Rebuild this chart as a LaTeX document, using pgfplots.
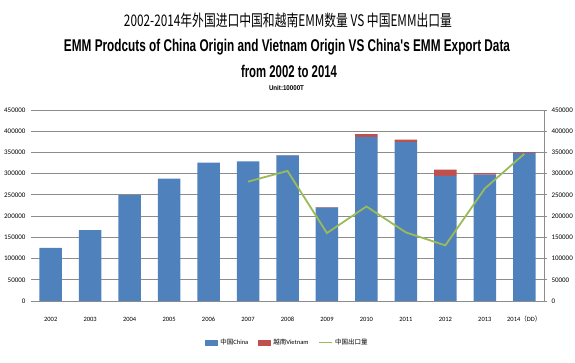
\documentclass[border=0pt]{standalone}
\usepackage{pgfplots}
\pgfplotsset{compat=1.18}
\usepackage{pgfplotstable}
\usepackage{graphicx}
\usepackage{fontspec}
\setmainfont{Carlito}
\newfontfamily\cjk{Noto Sans CJK SC}
\newfontfamily\arial{Liberation Sans}
\definecolor{cblue}{HTML}{4F81BD}
\definecolor{cred}{HTML}{C0504D}
\definecolor{cgreen}{HTML}{9BBB59}
\definecolor{cgrid}{HTML}{8C8C8C}
\pgfplotstableread{
x china vietnam
0 125400 0
1 166900 0
2 249500 0
3 288400 0
4 326000 0
5 329000 0
6 343000 800
7 220000 1200
8 386700 6200
9 374100 6300
10 294900 14900
11 298000 3200
12 349000 1600
}\bars
\pgfplotstableread{
x export
5 281300
6 306400
7 160000
8 222700
9 161600
10 131000
11 265000
12 346700
}\exportdata
\begin{document}
\begin{tikzpicture}[x=1pt,y=1pt]
\useasboundingbox (0,0) rectangle (575,363);
\node[anchor=base,inner sep=0] at (288,336) {\resizebox{328pt}{\height}{\cjk\fontsize{16}{16}\selectfont 2002-2014年外国进口中国和越南EMM数量 VS 中国EMM出口量}};
\node[anchor=base,inner sep=0] at (287,311) {\resizebox{446pt}{\height}{\arial\bfseries\fontsize{17}{17}\selectfont EMM Prodcuts of China Origin and Vietnam Origin VS China\textquotesingle s EMM Export Data}};
\node[anchor=base,inner sep=0] at (289,285) {\resizebox{96pt}{\height}{\arial\bfseries\fontsize{17}{17}\selectfont from 2002 to 2014}};
\node[anchor=base,inner sep=0] at (286.5,272) {\resizebox{35pt}{\height}{\arial\bfseries\fontsize{7}{7}\selectfont Unit:10000T}};
\begin{axis}[
  at={(31pt,62pt)}, anchor=south west, width=513pt, height=191pt, scale only axis,
  ybar stacked, bar width=22.5pt,
  xmin=-0.5, xmax=12.5, ymin=0, ymax=450000,
  xtick={0,1,2,3,4,5,6,7,8,9,10,11,12},
  xticklabels={2002,2003,2004,2005,2006,2007,2008,2009,2010,2011,2012,2013,{2014{\cjk （}DD{\cjk ）}}},
  ytick={0,50000,100000,150000,200000,250000,300000,350000,400000,450000},
  scaled y ticks=false,
  /pgf/number format/fixed,
  /pgf/number format/1000 sep={},
  /pgf/number format/assume math mode=true,
  ymajorgrids, grid style={cgrid, line width=0.8pt},
  axis x line*=bottom, axis y line*=left,
  x axis line style={cgrid, line width=0.8pt, -},
  y axis line style={draw=none},
  major tick length=0pt,
  tick label style={font=\fontsize{7}{8}\selectfont},
  xticklabel style={anchor=base, yshift=-20.5pt, font=\fontsize{6.5}{7}\selectfont},
  yticklabel style={xshift=-2pt},
  legend style={draw=none, fill=none, at={(0.5,-0.218)}, anchor=center,
    legend columns=3, font=\fontsize{6.5}{7}\selectfont,
    /tikz/every even column/.append style={column sep=8pt}},
  legend cell align=left,
]
\addplot[fill=cblue, draw=none, legend image code/.code={\fill[cblue] (0pt,-3pt) rectangle (13pt,3pt);}] table[x=x,y=china] {\bars};
\addlegendentry{{\cjk 中国}China}
\addplot[fill=cred, draw=none, legend image code/.code={\fill[cred] (0pt,-3pt) rectangle (13pt,3pt);}] table[x=x,y=vietnam] {\bars};
\addlegendentry{{\cjk 越南}Vietnam}
\addlegendimage{cgreen, line width=1.5pt, legend image code/.code={\draw[cgreen, line width=1.5pt] (0pt,0pt) -- (13pt,0pt);}}
\addlegendentry{{\cjk 中国出口量}}
\end{axis}
\begin{axis}[
  at={(31pt,62pt)}, anchor=south west, width=513pt, height=191pt, scale only axis,
  xmin=-0.5, xmax=12.5, ymin=0, ymax=450000,
  axis x line=none, axis y line*=right,
  y axis line style={cgrid, line width=0.8pt, -},
  ytick={0,50000,100000,150000,200000,250000,300000,350000,400000,450000},
  scaled y ticks=false,
  /pgf/number format/fixed,
  /pgf/number format/1000 sep={},
  /pgf/number format/assume math mode=true,
  major tick length=3pt, tick align=outside, tick style={cgrid, line width=0.8pt},
  tick label style={font=\fontsize{7}{8}\selectfont},
  yticklabel style={xshift=1pt},
]
\addplot[cgreen, line width=1.8pt, mark=none] table[x=x,y=export] {\exportdata};
\end{axis}
\end{tikzpicture}
\end{document}
